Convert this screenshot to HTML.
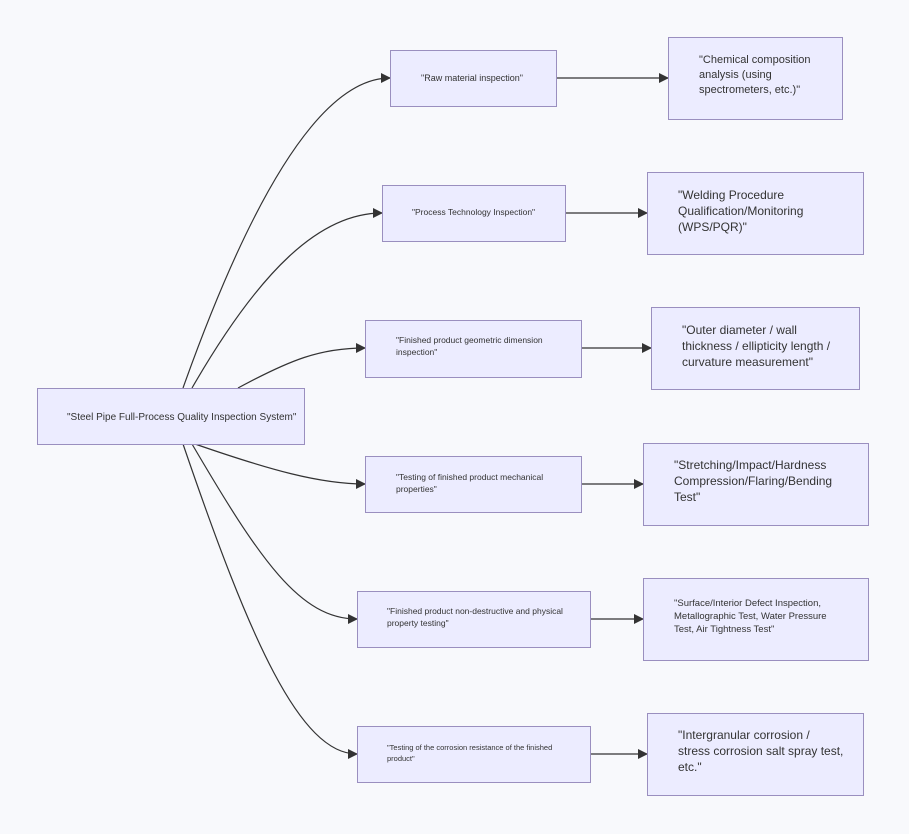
<!DOCTYPE html>
<html><head><meta charset="utf-8"><style>
html,body{margin:0;padding:0;background:#f8f9fc;}
svg{display:block}
text{font-family:"Liberation Sans",sans-serif;fill:#333;}
</style></head><body>
<svg width="909" height="834" viewBox="0 0 909 834" xmlns="http://www.w3.org/2000/svg">
<defs><marker id="a" markerWidth="10" markerHeight="10" refX="9" refY="5" orient="auto" markerUnits="userSpaceOnUse"><path d="M0,0 L10,5 L0,10 z" fill="#333"/></marker></defs>
<g fill="none" stroke="#333" stroke-width="1.2" marker-end="url(#a)">
<path d="M183,388 C250,200 320,78 390,78"/>
<path d="M192,388 C260,270 320,213 382,213"/>
<path d="M238,388 C290,360 320,348 365,348"/>
<path d="M195,444 C270,470 320,484 365,484"/>
<path d="M192,444 C260,560 300,619 357,619"/>
<path d="M183,444 C250,640 300,754 357,754"/>
<path d="M556,78 L668,78"/>
<path d="M565,213 L647,213"/>
<path d="M581,348 L651,348"/>
<path d="M581,484 L643,484"/>
<path d="M590,619 L643,619"/>
<path d="M590,754 L647,754"/>
</g>
<g fill="#ececff" stroke="#9a8fbf" stroke-width="1">
<rect x="37.5" y="388.5" width="267" height="56"/>
<rect x="390.5" y="50.5" width="166" height="56"/>
<rect x="382.5" y="185.5" width="183" height="56"/>
<rect x="365.5" y="320.5" width="216" height="57"/>
<rect x="365.5" y="456.5" width="216" height="56"/>
<rect x="357.5" y="591.5" width="233" height="56"/>
<rect x="357.5" y="726.5" width="233" height="56"/>
<rect x="668.5" y="37.5" width="174" height="82"/>
<rect x="647.5" y="172.5" width="216" height="82"/>
<rect x="651.5" y="307.5" width="208" height="82"/>
<rect x="643.5" y="443.5" width="225" height="82"/>
<rect x="643.5" y="578.5" width="225" height="82"/>
<rect x="647.5" y="713.5" width="216" height="82"/>
</g>
<g font-size="10">
<text x="67" y="420">"Steel Pipe Full-Process Quality Inspection System"</text>
<text x="421" y="81" font-size="9">"Raw material inspection"</text>
<text x="412" y="215" font-size="8.5">"Process Technology Inspection"</text>
<text x="396" y="343" font-size="8.5">"Finished product geometric dimension</text>
<text x="396" y="355" font-size="8.5">inspection"</text>
<text x="396" y="480" font-size="8.5">"Testing of finished product mechanical</text>
<text x="396" y="492" font-size="8.5">properties"</text>
<text x="387" y="614" font-size="8.5">"Finished product non-destructive and physical</text>
<text x="387" y="626" font-size="8.5">property testing"</text>
<text x="387" y="750" font-size="7.5">"Testing of the corrosion resistance of the finished</text>
<text x="387" y="761" font-size="7.5">product"</text>
</g>
<g font-size="11">
<text x="699" y="63">"Chemical composition</text>
<text x="699" y="78">analysis (using</text>
<text x="699" y="93">spectrometers, etc.)"</text>
<text x="678" y="199" font-size="12">"Welding Procedure</text>
<text x="678" y="215" font-size="12">Qualification/Monitoring</text>
<text x="678" y="231" font-size="12">(WPS/PQR)"</text>
<text x="682" y="334" font-size="12">"Outer diameter / wall</text>
<text x="682" y="350" font-size="12">thickness / ellipticity length /</text>
<text x="682" y="366" font-size="12">curvature measurement"</text>
<text x="674" y="469" font-size="12">"Stretching/Impact/Hardness</text>
<text x="674" y="485" font-size="12">Compression/Flaring/Bending</text>
<text x="674" y="501" font-size="12">Test"</text>
<text x="674" y="606" font-size="9.5">"Surface/Interior Defect Inspection,</text>
<text x="674" y="619" font-size="9.5">Metallographic Test, Water Pressure</text>
<text x="674" y="632" font-size="9.5">Test, Air Tightness Test"</text>
<text x="678" y="739" font-size="12">"Intergranular corrosion /</text>
<text x="678" y="755" font-size="12">stress corrosion salt spray test,</text>
<text x="678" y="771" font-size="12">etc."</text>
</g>
</svg>
</body></html>
